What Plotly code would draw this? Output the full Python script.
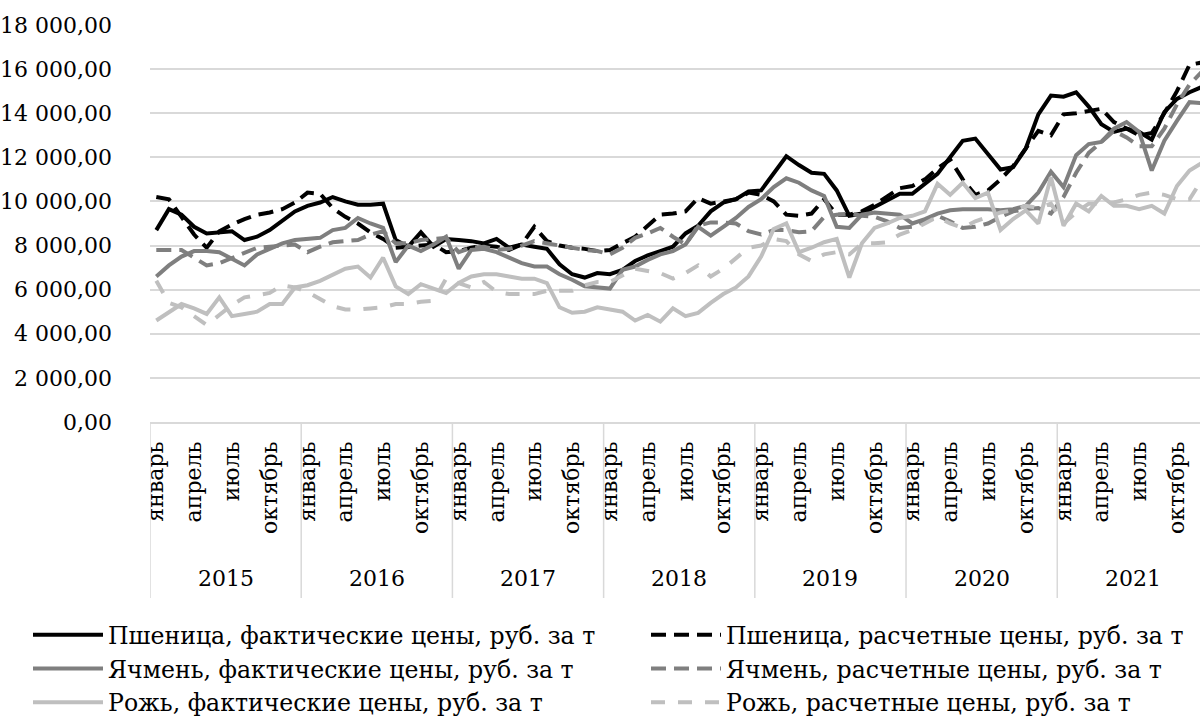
import plotly.graph_objects as go

years = ["2015", "2016", "2017", "2018", "2019", "2020", "2021"]
month_names = ["январь", "февраль", "март", "апрель", "май", "июнь",
               "июль", "август", "сентябрь", "октябрь", "ноябрь", "декабрь"]
shown_months = ["январь", "апрель", "июль", "октябрь"]

wheat_fact = [
    8700, 9650, 9400, 8850, 8550, 8600, 8650, 8250, 8400, 8700, 9100, 9550,
    9800, 9950, 10200, 10000, 9850, 9850, 9900, 8250, 7950, 8600, 7950, 8300,
    8250, 8200, 8100, 8300, 7900, 8050, 7950, 7850, 7150, 6700, 6550, 6750,
    6700, 6900, 7300, 7550, 7750, 7950, 8550, 8900, 9550, 9950, 10100, 10450,
    10500, 11300, 12050, 11650, 11300, 11250, 10500, 9350, 9450, 9750, 10050, 10350,
    10350, 10800, 11250, 12000, 12750, 12850, 12150, 11450, 11550, 12400, 13950, 14800,
    14750, 14950, 14300, 13500, 13150, 13300, 13150, 12800, 14050, 14650, 14950, 15200,
]
wheat_calc = [
    10200, 10100, 9300, 8500, 7900, 8650, 8950, 9200, 9400, 9500, 9650, 9950,
    10400, 10350, 9700, 9300, 9000, 8600, 8300, 7900, 7950, 8000, 8050, 7700,
    7750, 7900, 8000, 7950, 7800, 8050, 8850, 8200, 8000, 7900, 7850, 7750,
    7800, 8100, 8400, 8900, 9400, 9450, 9550, 10150, 9900, 10000, 10100, 10400,
    10300, 10000, 9400, 9350, 9450, 10100, 9400, 9400, 9550, 9850, 10200, 10600,
    10700, 11000, 11500, 11900, 11000, 10300, 10500, 11000, 11600, 12400, 13200, 13000,
    13950, 14000, 14100, 14200, 13600, 13300, 13000, 13100, 14000, 15000, 16200, 16300,
]
barley_fact = [
    6600, 7100, 7500, 7750, 7750, 7700, 7400, 7100, 7600, 7850, 8100, 8250,
    8300, 8350, 8700, 8800, 9250, 9000, 8800, 7250, 8000, 7750, 8050, 8400,
    6950, 7800, 7850, 7700, 7450, 7200, 7050, 7050, 6700, 6450, 6150, 6100,
    6050, 6900, 7050, 7350, 7600, 7750, 8050, 8850, 8450, 8850, 9250, 9750,
    10100, 10650, 11050, 10850, 10500, 10250, 8850, 8800, 9400, 9500, 9450, 9400,
    9000, 9200, 9450, 9600, 9650, 9650, 9650, 9600, 9650, 9800, 10400, 11350,
    10650, 12100, 12600, 12700, 13300, 13600, 13150, 11400, 12750, 13650, 14500, 14450,
]
barley_calc = [
    7800, 7800, 7800, 7450, 7100, 7200, 7450, 7650, 7900, 7950, 8000, 8050,
    7700, 7950, 8150, 8200, 8250, 8500, 8650, 8100, 8100, 8250, 8300, 8350,
    7700, 7900, 7950, 7800, 7850, 8000, 8200, 8100, 8000, 7900, 7800, 7750,
    7600, 7900, 8350, 8550, 8800, 8400, 8050, 8900, 9050, 9050, 9000, 8650,
    8500, 8700, 8700, 8600, 8650, 9300, 9400, 9450, 9350, 9300, 9100, 8800,
    8850, 9100, 9350, 9100, 8800, 8850, 9000, 9300, 9550, 9650, 9700, 9450,
    10200, 11300, 12200, 12700, 13200, 12900, 12500, 12500, 13300, 14400, 15300, 15900,
]
rye_fact = [
    4600, 4950, 5350, 5150, 4900, 5650, 4800, 4900, 5000, 5350, 5350, 6100,
    6200, 6400, 6700, 6950, 7050, 6550, 7450, 6150, 5800, 6250, 6050, 5850,
    6300, 6600, 6700, 6700, 6600, 6500, 6500, 6300, 5200, 4950, 5000, 5200,
    5100, 5000, 4600, 4850, 4550, 5150, 4800, 4950, 5400, 5800, 6100, 6600,
    7500, 8750, 9000, 7700, 7900, 8150, 8300, 6550, 8100, 8800, 9000, 9250,
    9350, 9550, 10800, 10300, 10850, 10150, 10400, 8700, 9200, 9600, 9000, 11100,
    8900, 9900, 9550, 10250, 9800, 9800, 9650, 9800, 9450, 10700, 11400, 11750,
]
rye_calc = [
    6400, 5400, 5200, 4800, 4400, 4850, 5300, 5650, 5750, 5850, 6200, 6100,
    5900, 5600, 5250, 5100, 5100, 5150, 5200, 5350, 5350, 5450, 5500, 6500,
    6300, 6100, 6350, 5900, 5800, 5800, 5800, 5950, 5950, 5950, 6200, 6350,
    6350, 6650, 6950, 6850, 6750, 6500, 6750, 7100, 6600, 6950, 7400, 7900,
    8000, 8300, 8200, 7600, 7300, 7600, 7700, 7600, 8100, 8100, 8150, 8500,
    8700, 9000, 9300, 9000, 8800, 9100, 9300, 9500, 9600, 9800, 9700, 9900,
    9000, 9500, 9900, 9900, 9950, 10100, 10300, 10400, 10300, 10100, 10100, 11000,
]

n = len(years) * 12
x = list(range(n))

FONT = "DejaVu Serif"
BLACK, GRAY, LIGHT = "#000000", "#7f7f7f", "#bfbfbf"
DASH_A = "15px,8px"
DASH_B = "14px,13px"

series = [
    ("Пшеница, фактические цены, руб. за т", wheat_fact, BLACK, "solid", "legend"),
    ("Пшеница, расчетные цены, руб. за т", wheat_calc, BLACK, DASH_A, "legend2"),
    ("Ячмень, фактические цены, руб. за т", barley_fact, GRAY, "solid", "legend"),
    ("Ячмень, расчетные цены, руб. за т", barley_calc, GRAY, DASH_A, "legend2"),
    ("Рожь, фактические цены, руб. за т", rye_fact, LIGHT, "solid", "legend"),
    ("Рожь, расчетные цены, руб. за т", rye_calc, LIGHT, DASH_B, "legend2"),
]

fig = go.Figure()
for name, vals, col, dash, lg in series:
    fig.add_trace(go.Scatter(
        x=x, y=vals, mode="lines", name=name, legend=lg,
        line=dict(color=col, width=4, dash=dash),
    ))

tickvals = [i for i in x if month_names[i % 12] in shown_months]
ticktext = [month_names[i % 12] for i in tickvals]

# plot geometry (pixels)
W, H = 1200, 722
left, top, bottom_px = 150, 25, 422
plot_h = bottom_px - top
plot_w = W - left

def px_x(p):
    return (p - left) / plot_w

def px_y(p):
    return (bottom_px - p) / plot_h

legend_common = dict(
    orientation="v", yanchor="top", xanchor="left",
    itemwidth=70, font=dict(family=FONT, size=23.6),
    tracegroupgap=0, bgcolor="rgba(0,0,0,0)",
)

fig.update_layout(
    width=W, height=H,
    margin=dict(l=left, r=0, t=top, b=H - bottom_px, autoexpand=False),
    paper_bgcolor="white", plot_bgcolor="white",
    font=dict(family=FONT, size=22, color="#000000"),
    separators=", ",
    showlegend=True,
    legend=dict(x=px_x(28), y=px_y(613), **legend_common),
    legend2=dict(x=px_x(646), y=px_y(613), **legend_common),
)

fig.update_yaxes(
    range=[0, 18000], dtick=2000, tickformat=",.2f",
    showgrid=True, gridcolor="#d9d9d9", gridwidth=1.5,
    zeroline=False, showline=False, ticks="",
    ticklabelstandoff=37, automargin=False,
    tickfont=dict(family=FONT, size=22),
)
fig.update_xaxes(
    range=[-0.5, 82.83],
    tickmode="array", tickvals=tickvals, ticktext=ticktext,
    tickangle=-90, ticks="", showgrid=False, zeroline=False,
    showline=True, linecolor="#d9d9d9", linewidth=1.5,
    ticklabelstandoff=9, automargin=False,
    tickfont=dict(family=FONT, size=22),
)

# year group labels and dividers of the two-level category axis
div_bottom = px_y(598)
year_y = px_y(578)
for k, yr in enumerate(years):
    fig.add_annotation(
        x=12 * k + 5.5, y=year_y, xref="x", yref="paper",
        text=yr, showarrow=False, font=dict(family=FONT, size=22),
        xanchor="center", yanchor="middle",
    )
    fig.add_shape(
        type="line", xref="x", yref="paper",
        x0=12 * k - 0.5, x1=12 * k - 0.5, y0=0, y1=div_bottom,
        line=dict(color="#d9d9d9", width=1.5),
    )

fig.write_html(
    "out.html",
    config={"displayModeBar": False},
    post_script="document.body.style.margin='0px';document.body.style.overflow='hidden';",
)
